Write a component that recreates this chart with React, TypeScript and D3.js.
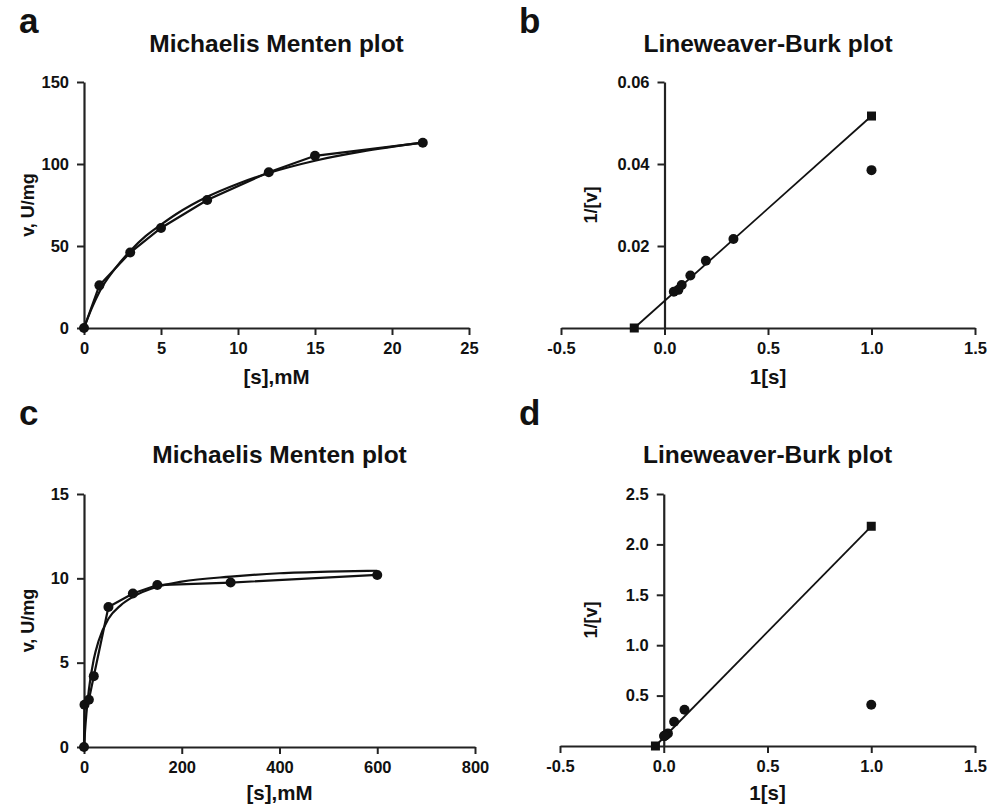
import React, { useEffect, useRef } from 'react';
import * as d3 from 'd3';

// panel a: Michaelis Menten, substrate [s] mM vs v U/mg
const aS = [0, 1, 3, 5, 8, 12, 15, 22];
const aV = [0, 26, 46, 61, 78, 95, 105, 113];
const aFitS = [0, 0.5, 1, 2, 3, 4, 5, 6, 8, 10, 12, 15, 18, 22];
const aFitV = [0, 12, 22, 36, 47, 56, 63, 69.5, 80, 88, 94.5, 102, 107.5, 113];

// panel b: Lineweaver-Burk
const bX = [1, 0.333, 0.2, 0.125, 0.083, 0.067, 0.045];
const bY = [0.0385, 0.0217, 0.0164, 0.0128, 0.0105, 0.0093, 0.00885];
const bLineX = [-0.146, 1.0];
const bLineY = [0, 0.0517];

// panel c
const cS = [0, 1, 10, 20, 50, 100, 150, 300, 600];
const cV = [0, 2.5, 2.8, 4.2, 8.3, 9.1, 9.6, 9.75, 10.2];
const cFitS = [0, 2, 5, 10, 20, 30, 50, 75, 100, 150, 200, 300, 400, 500, 600];
const cFitV = [0, 0.9, 2.0, 3.4, 5.2, 6.3, 7.6, 8.4, 8.9, 9.5, 9.8, 10.1, 10.3, 10.4, 10.45];

// panel d
const dX = [1, 0.1, 0.05, 0.02, 0.01, 0.0067, 0.0033, 0.0017];
const dY = [0.41, 0.36, 0.24, 0.125, 0.11, 0.105, 0.1, 0.098];
const dLineX = [-0.04, 1.0];
const dLineY = [0, 2.18];

const aXTicks = [0, 5, 10, 15, 20, 25];
const aYTicks = [0, 50, 100, 150];
const bXTicks = [-0.5, 0, 0.5, 1, 1.5];
const bYTicks = [0.02, 0.04, 0.06];
const cXTicks = [0, 200, 400, 600, 800];
const cYTicks = [0, 5, 10, 15];
const dXTicks = [-0.5, 0, 0.5, 1, 1.5];
const dYTicks = [0.5, 1, 1.5, 2, 2.5];

const FONT = "'Liberation Sans', Arial, Helvetica, sans-serif";
const INK = '#111';

// plain hyphen for negatives, like the original figure
const fmt = (spec: string) => {
  const f = d3.format(spec);
  return (v: number) => f(v).replace('\u2212', '-');
};

const panels = [
  {
    letter: 'a', title: 'Michaelis Menten plot', xLabel: '[s],mM', yLabel: 'v, U/mg',
    xDom: [0, 25], yDom: [0, 150], xR: [84, 469], yR: [328, 82],
    xTicks: aXTicks, yTicks: aYTicks, xFmt: fmt('d'), yFmt: fmt('d'),
    pts: aS.map((s, i) => [s, aV[i]]), poly: true,
    fit: aFitS.map((s, i) => [s, aFitV[i]]), squares: [] as number[][],
    letterPos: [19, 33], titleY: 52, xLabelY: 384, yLabelX: 34,
  },
  {
    letter: 'b', title: 'Lineweaver-Burk plot', xLabel: '1[s]', yLabel: '1/[v]',
    xDom: [-0.5, 1.5], yDom: [0, 0.06], xR: [561, 975], yR: [328, 82],
    xTicks: bXTicks, yTicks: bYTicks, xFmt: fmt('.1f'), yFmt: fmt('.2f'),
    pts: bX.map((x, i) => [x, bY[i]]), poly: false,
    fit: bLineX.map((x, i) => [x, bLineY[i]]), squares: bLineX.map((x, i) => [x, bLineY[i]]),
    letterPos: [519, 33], titleY: 52, xLabelY: 384, yLabelX: 597,
  },
  {
    letter: 'c', title: 'Michaelis Menten plot', xLabel: '[s],mM', yLabel: 'v, U/mg',
    xDom: [0, 800], yDom: [0, 15], xR: [84, 475], yR: [747, 494],
    xTicks: cXTicks, yTicks: cYTicks, xFmt: fmt('d'), yFmt: fmt('d'),
    pts: cS.map((s, i) => [s, cV[i]]), poly: true,
    fit: cFitS.map((s, i) => [s, cFitV[i]]), squares: [] as number[][],
    letterPos: [19, 425], titleY: 463, xLabelY: 800, yLabelX: 34,
  },
  {
    letter: 'd', title: 'Lineweaver-Burk plot', xLabel: '1[s]', yLabel: '1/[v]',
    xDom: [-0.5, 1.5], yDom: [0, 2.5], xR: [560, 975], yR: [746, 494],
    xTicks: dXTicks, yTicks: dYTicks, xFmt: fmt('.1f'), yFmt: fmt('.1f'),
    pts: dX.map((x, i) => [x, dY[i]]), poly: false,
    fit: dLineX.map((x, i) => [x, dLineY[i]]), squares: dLineX.map((x, i) => [x, dLineY[i]]),
    letterPos: [519, 425], titleY: 463, xLabelY: 800, yLabelX: 597,
  },
];

export default function App() {
  const ref = useRef<SVGSVGElement>(null);

  useEffect(() => {
    const svg = d3.select(ref.current);
    svg.selectAll('*').remove();

    panels.forEach(p => {
      const x = d3.scaleLinear().domain(p.xDom).range(p.xR);
      const y = d3.scaleLinear().domain(p.yDom).range(p.yR);
      const g = svg.append('g');

      // x axis sits at y = 0, y axis at x = 0
      const xa = g.append('g')
        .attr('transform', `translate(0,${y(0)})`)
        .call(d3.axisBottom(x).tickValues(p.xTicks).tickFormat(p.xFmt as any).tickSize(7).tickSizeOuter(0).tickPadding(7));
      const ya = g.append('g')
        .attr('transform', `translate(${x(0)},0)`)
        .call(d3.axisLeft(y).tickValues(p.yTicks).tickFormat(p.yFmt as any).tickSize(7).tickSizeOuter(0).tickPadding(8));
      [xa, ya].forEach(a => {
        a.select('.domain').attr('stroke', '#222').attr('stroke-width', 2.2);
        a.selectAll('.tick line').attr('stroke', '#222').attr('stroke-width', 2);
        a.selectAll('.tick text')
          .attr('fill', INK)
          .style('font-family', FONT)
          .style('font-weight', 'bold')
          .style('font-size', '16.5px');
      });

      const line = d3.line<number[]>().x(d => x(d[0])).y(d => y(d[1]));

      if (p.poly) {
        g.append('path')
          .attr('d', line.curve(d3.curveMonotoneX)(p.fit))
          .attr('fill', 'none').attr('stroke', INK).attr('stroke-width', 2.2);
        g.append('path')
          .attr('d', d3.line<number[]>().x(d => x(d[0])).y(d => y(d[1]))(p.pts))
          .attr('fill', 'none').attr('stroke', INK).attr('stroke-width', 2.2);
      } else {
        g.append('path')
          .attr('d', line(p.fit))
          .attr('fill', 'none').attr('stroke', INK).attr('stroke-width', 1.8);
      }

      g.selectAll('circle.pt')
        .data(p.pts)
        .enter()
        .append('circle')
        .attr('class', 'pt')
        .attr('cx', d => x(d[0]))
        .attr('cy', d => y(d[1]))
        .attr('r', 5)
        .attr('fill', INK);

      g.selectAll('rect.sq')
        .data(p.squares)
        .enter()
        .append('rect')
        .attr('class', 'sq')
        .attr('x', d => x(d[0]) - 4.5)
        .attr('y', d => y(d[1]) - 4.5)
        .attr('width', 9)
        .attr('height', 9)
        .attr('fill', INK);

      const cx = (p.xR[0] + p.xR[1]) / 2;
      const cy = (p.yR[0] + p.yR[1]) / 2;

      g.append('text')
        .attr('x', p.letterPos[0]).attr('y', p.letterPos[1])
        .style('font-family', FONT).style('font-weight', 'bold').style('font-size', '35px')
        .attr('fill', INK).text(p.letter);

      g.append('text')
        .attr('x', cx).attr('y', p.titleY).attr('text-anchor', 'middle')
        .style('font-family', FONT).style('font-weight', 'bold').style('font-size', '24.5px')
        .attr('fill', INK).text(p.title);

      g.append('text')
        .attr('x', cx).attr('y', p.xLabelY).attr('text-anchor', 'middle')
        .style('font-family', FONT).style('font-weight', 'bold').style('font-size', '20.5px')
        .attr('fill', INK).text(p.xLabel);

      g.append('text')
        .attr('transform', `translate(${p.yLabelX},${cy}) rotate(-90)`)
        .attr('text-anchor', 'middle')
        .style('font-family', FONT).style('font-weight', 'bold').style('font-size', '18px')
        .attr('fill', INK).text(p.yLabel);
    });
  }, []);

  return (
    <svg
      ref={ref}
      width={1003}
      height={807}
      style={{ position: 'absolute', left: 0, top: 0, background: '#fff' }}
    />
  );
}
